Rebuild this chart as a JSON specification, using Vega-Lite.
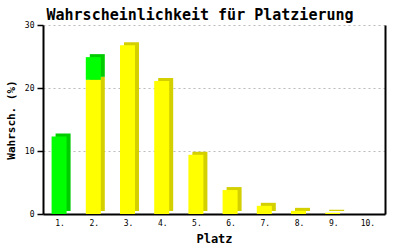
{
  "$schema": "https://vega.github.io/schema/vega-lite/v6.json",
  "width": 342,
  "height": 189,
  "autosize": "none",
  "padding": {"left": 43, "top": 25, "right": 15, "bottom": 36},
  "background": "white",
  "title": {
    "text": "Wahrscheinlichkeit für Platzierung",
    "font": "DejaVu Sans Mono",
    "fontSize": 15,
    "fontWeight": "bold",
    "color": "black",
    "anchor": "middle",
    "frame": "group",
    "dx": -14,
    "dy": 8,
    "offset": 6
  },
  "config": {
    "view": {"stroke": null},
    "axis": {
      "labelFont": "DejaVu Sans Mono",
      "titleFont": "DejaVu Sans Mono",
      "labelColor": "black",
      "titleColor": "black",
      "domainColor": "black",
      "tickColor": "black"
    }
  },
  "data": {
    "values": [
      {"platz": "1.", "serie": "grün", "wert": 12.3},
      {"platz": "2.", "serie": "gelb", "wert": 21.3},
      {"platz": "2.", "serie": "grün", "wert": 3.6},
      {"platz": "3.", "serie": "gelb", "wert": 26.8},
      {"platz": "4.", "serie": "gelb", "wert": 21.1},
      {"platz": "5.", "serie": "gelb", "wert": 9.4},
      {"platz": "6.", "serie": "gelb", "wert": 3.8},
      {"platz": "7.", "serie": "gelb", "wert": 1.3},
      {"platz": "8.", "serie": "gelb", "wert": 0.5},
      {"platz": "9.", "serie": "gelb", "wert": 0.2},
      {"platz": "10.", "serie": "gelb", "wert": 0}
    ]
  },
  "encoding": {
    "x": {
      "field": "platz",
      "type": "ordinal",
      "sort": null,
      "scale": {"paddingInner": 0.5, "paddingOuter": 0.25},
      "axis": {
        "title": "Platz",
        "titleFontSize": 12,
        "titleFontWeight": "bold",
        "titlePadding": 6,
        "labelFontSize": 8,
        "labelAngle": 0,
        "labelPadding": 5,
        "ticks": false,
        "domainWidth": 2,
        "grid": false
      }
    },
    "order": {"field": "serie", "sort": "ascending"}
  },
  "layer": [
    {
      "mark": {"type": "bar", "size": 15, "xOffset": 3, "yOffset": -3},
      "encoding": {
        "y": {
          "field": "wert",
          "type": "quantitative",
          "stack": "zero",
          "scale": {"domain": [0, 30], "nice": false},
          "axis": {
            "title": "Wahrsch. (%)",
            "titleFontSize": 11,
            "titleFontWeight": "bold",
            "titlePadding": 8,
            "values": [0, 10, 20, 30],
            "labelFontSize": 8,
            "labelPadding": 3,
            "tickSize": 6,
            "tickWidth": 1.5,
            "domainWidth": 2,
            "grid": true,
            "gridColor": "#bbbbbb",
            "gridDash": [2, 3],
            "gridWidth": 1
          }
        },
        "color": {
          "field": "serie",
          "type": "nominal",
          "scale": {"domain": ["gelb", "grün"], "range": ["#d4d000", "#00cc00"]},
          "legend": null
        }
      }
    },
    {
      "mark": {"type": "bar", "size": 15, "xOffset": -1},
      "encoding": {
        "y": {
          "field": "wert",
          "type": "quantitative",
          "stack": "zero",
          "scale": {"domain": [0, 30], "nice": false},
          "axis": {
            "orient": "right",
            "title": null,
            "labels": false,
            "ticks": false,
            "grid": false,
            "domainWidth": 2
          }
        },
        "color": {
          "field": "serie",
          "type": "nominal",
          "scale": {"domain": ["gelb", "grün"], "range": ["#ffff00", "#00ff00"]},
          "legend": null
        }
      }
    }
  ],
  "resolve": {"scale": {"color": "independent"}, "axis": {"y": "independent"}}
}
